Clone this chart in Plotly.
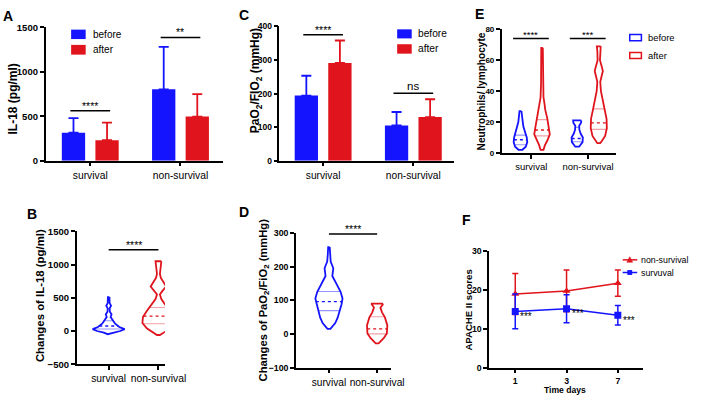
import numpy as np
import plotly.graph_objects as go

W, H = 708, 402
FONT = "Liberation Sans, Arial, sans-serif"
BLUE = "#1414ff"
RED = "#e0141c"
BLUE_L = "rgba(20,20,255,0.45)"
RED_L = "rgba(224,20,28,0.40)"

# ---------------- data ----------------
cats = ["survival", "non-survival"]

# A: IL-18 (pg/ml), mean and SD (upper bar only)
il18_before = [315, 803]
il18_before_sd = [163, 478]
il18_after = [230, 496]
il18_after_sd = [197, 252]
A_sig_y = [562, 1387]
A_sig_txt = ["****", "**"]

# C: PaO2/FiO2
pf_before = [194, 105]
pf_before_sd = [59, 40]
pf_after = [291, 130]
pf_after_sd = [67, 53]
C_sig_y = [375, 201]
C_sig_txt = ["****", "ns"]

# B: changes of IL-18 -- violin profiles (value, relative density) + quartiles
B_surv_v = [510, 470, 420, 380, 340, 290, 250, 210, 160, 110, 60, 28, 0, -25, -48]
B_surv_d = [0.8, 1, 1, 2.5, 1, 1.2, 3, 2, 4, 6.7, 11, 16.5, 12, 5, 1]
B_surv_q = [30, 75, 155]
B_non_v = [1050, 1000, 920, 860, 800, 740, 670, 600, 550, 480, 400, 300, 210, 120, 40, -10, -45, -60]
B_non_d = [3, 2.8, 2, 1.5, 2.5, 5, 8, 4, 1.5, 3, 7, 12, 16, 16.5, 12, 7, 3, 1.5]
B_non_q = [110, 225, 354]
B_sig_y = [1222]
B_sig_txt = ["****"]

# D: changes of PaO2/FiO2
D_surv_v = [258, 235, 215, 195, 172, 150, 125, 105, 88, 68, 48, 32, 21, 15]
D_surv_d = [0.8, 1.2, 1.8, 4.5, 3.5, 7.5, 12, 14, 13, 11, 9, 6.5, 3.5, 1.5]
D_surv_q = [69, 96, 126]
D_non_v = [90, 86, 78, 64, 49, 25, 1, -13, -25, -28]
D_non_d = [6, 5.5, 3.3, 5, 8, 10.5, 10, 6.7, 2.5, 1.5]
D_non_q = [0, 15, 51]
D_sig_y = [297]
D_sig_txt = ["****"]

# E: Neutrophils / lymphocyte
E_sb_v = [27, 24, 20, 17, 14, 10, 7, 4, 2]
E_sb_d = [1, 1.5, 2.2, 3, 4.5, 6.5, 7, 5.5, 2]
E_sb_q = [5.3, 8.5, 11.5]
E_sa_v = [68, 55, 45, 36, 32, 28, 22, 16, 12, 8, 5, 2]
E_sa_d = [0.8, 1, 1, 1.5, 2.5, 3.3, 5.5, 7, 8, 5.5, 3, 1.5]
E_sa_q = [11, 14.8, 21.5]
E_nb_v = [21, 19.5, 17.5, 15, 12.5, 10, 7, 5, 4]
E_nb_d = [4.2, 4, 2, 2.2, 3.5, 5.8, 5.5, 3.5, 2]
E_nb_q = [7.2, 9.3, 16.5]
E_na_v = [69, 66, 60, 56, 53, 50, 46, 40, 34, 28, 22, 16, 11, 8, 6.3]
E_na_d = [2, 1.5, 1.2, 3, 4.2, 3, 1.5, 2.2, 4, 6, 8, 8.3, 6.5, 3.5, 1.5]
E_na_q = [15.2, 19.4, 28.5]
E_sig_y = [74, 74]
E_sig_txt = ["****", "***"]

# F: APACHE II scores
days = ["1", "3", "7"]
apache_non = [19.0, 19.8, 21.8]
apache_non_sd = [5.3, 5.4, 3.4]
apache_surv = [14.5, 15.2, 13.5]
apache_surv_sd = [4.5, 3.6, 2.5]
F_sig_txt = ["***", "***", "***"]

# ---------------- helpers ----------------
def px(x):
    return x / W


def py(y):
    return 1 - y / H


fig = go.Figure()


def axis(domain, rng, tickfont, bold=False, **kw):
    tf = dict(family=FONT, size=tickfont, color="black")
    if bold:
        tf["weight"] = "bold"
    d = dict(domain=domain, range=rng, showline=True, linecolor="black", linewidth=1.5,
             ticks="outside", ticklen=4, tickwidth=1.5, tickcolor="black",
             showgrid=False, zeroline=False, fixedrange=True, tickfont=tf)
    d.update(kw)
    return d


def violin(xa, ya, center, vals, dens, q, color, light, scale):
    vals = np.asarray(vals, float)
    hw = np.asarray(dens, float) * scale
    xs = np.concatenate([center + hw, (center - hw)[::-1], [center + hw[0]]])
    ys = np.concatenate([vals, vals[::-1], [vals[0]]])
    fig.add_trace(go.Scatter(x=xs, y=ys, mode="lines", fill="toself", fillcolor="white",
                             line=dict(color=color, width=1.8), xaxis=xa, yaxis=ya,
                             showlegend=False, hoverinfo="skip"))
    order = np.argsort(vals)
    for i, val in enumerate(q):
        w = np.interp(val, vals[order], hw[order])
        if i == 1:
            ln = dict(color=color, width=1.3, dash="dot")
        else:
            ln = dict(color=light, width=1.1)
        fig.add_trace(go.Scatter(x=[center - w, center + w], y=[val, val], mode="lines",
                                 line=ln, xaxis=xa, yaxis=ya, showlegend=False,
                                 hoverinfo="skip"))


shapes = []
annos = []


def sig(xa, ya, x0, x1, y, txt, size=10.5, yshift=-3):
    shapes.append(dict(type="line", xref=xa, yref=ya, x0=x0, x1=x1, y0=y, y1=y,
                       line=dict(color="black", width=1.5)))
    annos.append(dict(xref=xa, yref=ya, x=(x0 + x1) / 2, y=y, text=txt, showarrow=False,
                      yanchor="bottom", yshift=yshift,
                      font=dict(family=FONT, size=size, color="black")))


def ytitle(x, y, txt, size):
    annos.append(dict(xref="paper", yref="paper", x=px(x), y=py(y), text=txt, textangle=-90,
                      showarrow=False, xanchor="center", yanchor="middle",
                      font=dict(family=FONT, size=size, color="black", weight="bold")))


def label(x, y, txt, size, bold=False, anchor="left"):
    f = dict(family=FONT, size=size, color="black")
    if bold:
        f["weight"] = "bold"
    annos.append(dict(xref="paper", yref="paper", x=px(x), y=py(y), text=txt, showarrow=False,
                      xanchor=anchor, yanchor="middle", font=f))


def rect(x0, y0, x1, y1, fill, line=None):
    shapes.append(dict(type="rect", xref="paper", yref="paper", x0=px(x0), x1=px(x1),
                       y0=py(y1), y1=py(y0), fillcolor=fill,
                       line=dict(width=0) if line is None else dict(color=line, width=1.5)))


# ---------------- Panel A ----------------
fig.add_trace(go.Bar(x=cats, y=il18_before, name="before", marker=dict(color=BLUE, line=dict(width=0)),
                     error_y=dict(type="data", array=il18_before_sd, arrayminus=[0, 0], symmetric=False,
                                  color=BLUE, thickness=1.8, width=5),
                     xaxis="x", yaxis="y", showlegend=False))
fig.add_trace(go.Bar(x=cats, y=il18_after, name="after", marker=dict(color=RED, line=dict(width=0)),
                     error_y=dict(type="data", array=il18_after_sd, arrayminus=[0, 0], symmetric=False,
                                  color=RED, thickness=1.8, width=5),
                     xaxis="x", yaxis="y", showlegend=False))
for i, (yv, t) in enumerate(zip(A_sig_y, A_sig_txt)):
    sig("x", "y", i - 0.22, i + 0.22, yv, t)

# ---------------- Panel C ----------------
fig.add_trace(go.Bar(x=cats, y=pf_before, name="before", marker=dict(color=BLUE, line=dict(width=0)),
                     error_y=dict(type="data", array=pf_before_sd, arrayminus=[0, 0], symmetric=False,
                                  color=BLUE, thickness=1.8, width=5),
                     xaxis="x3", yaxis="y3", showlegend=False))
fig.add_trace(go.Bar(x=cats, y=pf_after, name="after", marker=dict(color=RED, line=dict(width=0)),
                     error_y=dict(type="data", array=pf_after_sd, arrayminus=[0, 0], symmetric=False,
                                  color=RED, thickness=1.8, width=5),
                     xaxis="x3", yaxis="y3", showlegend=False))
for i, (yv, t) in enumerate(zip(C_sig_y, C_sig_txt)):
    if t == "ns":
        sig("x3", "y3", i - 0.22, i + 0.22, yv, t, size=11.5, yshift=-1)
    else:
        sig("x3", "y3", i - 0.22, i + 0.22, yv, t)

# ---------------- Panel B ----------------
violin("x2", "y2", 0, B_surv_v, B_surv_d, B_surv_q, BLUE, BLUE_L, 1 / 51.3)
violin("x2", "y2", 1, B_non_v, B_non_d, B_non_q, RED, RED_L, 1 / 51.3)
sig("x2", "y2", 0, 1, B_sig_y[0], B_sig_txt[0])

# ---------------- Panel D ----------------
violin("x4", "y4", 0, D_surv_v, D_surv_d, D_surv_q, BLUE, BLUE_L, 1 / 49.7)
violin("x4", "y4", 1, D_non_v, D_non_d, D_non_q, RED, RED_L, 1 / 49.7)
sig("x4", "y4", 0, 1, D_sig_y[0], D_sig_txt[0])

# ---------------- Panel E ----------------
off = 0.19
sE = 1 / 58.5
violin("x5", "y5", 0 - off, E_sb_v, E_sb_d, E_sb_q, BLUE, BLUE_L, sE)
violin("x5", "y5", 0 + off, E_sa_v, E_sa_d, E_sa_q, RED, RED_L, sE)
violin("x5", "y5", 1 - off, E_nb_v, E_nb_d, E_nb_q, BLUE, BLUE_L, sE)
violin("x5", "y5", 1 + off, E_na_v, E_na_d, E_na_q, RED, RED_L, sE)
for i, (yv, t) in enumerate(zip(E_sig_y, E_sig_txt)):
    sig("x5", "y5", i - 0.32, i + 0.31, yv, t, size=9.5)

# ---------------- Panel F ----------------
fig.add_trace(go.Scatter(x=days, y=apache_non, name="non-survival", mode="lines+markers",
                         line=dict(color=RED, width=1.5),
                         marker=dict(symbol="triangle-up", size=7, color=RED),
                         error_y=dict(type="data", array=apache_non_sd, color=RED, thickness=1.5, width=3),
                         xaxis="x6", yaxis="y6", showlegend=False))
fig.add_trace(go.Scatter(x=days, y=apache_surv, name="survuval", mode="lines+markers",
                         line=dict(color=BLUE, width=1.5),
                         marker=dict(symbol="square", size=7, color=BLUE),
                         error_y=dict(type="data", array=apache_surv_sd, color=BLUE, thickness=1.5, width=3),
                         xaxis="x6", yaxis="y6", showlegend=False))
for i, (v, t) in enumerate(zip(apache_surv, F_sig_txt)):
    annos.append(dict(xref="x6", yref="y6", x=i, y=v, text=t, showarrow=False, xanchor="left",
                      yanchor="middle", xshift=3, yshift=-5,
                      font=dict(family=FONT, size=10, color="black")))

# ---------------- legends (manual) ----------------
rect(73.3, 24.3, 88.3, 34, BLUE)
rect(73.3, 40, 88.3, 50, RED)
label(94, 29, "before", 10)
label(94, 45, "after", 10)

rect(409.3, 24, 424.3, 33.3, BLUE)
rect(409.3, 39.3, 424.3, 49, RED)
label(428.5, 28.7, "before", 10.2)
label(428.5, 44.2, "after", 10.2)

rect(649, 29.3, 661, 35.7, "white", BLUE)
rect(649, 47.7, 661, 54, "white", RED)
label(665.5, 32.5, "before", 9.4)
label(665.5, 50.8, "after", 9.4)

shapes.append(dict(type="line", xref="paper", yref="paper", x0=px(641.7), x1=px(656.7),
                   y0=py(261), y1=py(261), line=dict(color=RED, width=1.5)))
shapes.append(dict(type="path", xref="paper", yref="paper",
                   path="M %f,%f L %f,%f L %f,%f Z" % (px(646), py(263.5), px(652), py(263.5), px(649), py(257.8)),
                   fillcolor=RED, line=dict(color=RED, width=0.5)))
shapes.append(dict(type="line", xref="paper", yref="paper", x0=px(641.7), x1=px(656.7),
                   y0=py(274), y1=py(274), line=dict(color=BLUE, width=1.5)))
rect(646.5, 271.5, 651.5, 276.5, BLUE)
label(658.5, 261, "non-survival", 8.8)
label(658.5, 274, "survuval", 8.8)

# ---------------- titles & panel letters ----------------
ytitle(13.5, 96, "IL-18 (pg/ml)", 12)
ytitle(42, 297.5, "Changes of IL-18 (pg/ml)", 11.4)
ytitle(263.5, 76.7, "PaO<sub>2</sub>/FIO<sub>2</sub> (mmHg)", 12)
ytitle(271.7, 302, "Changes of PaO<sub>2</sub>/FiO<sub>2</sub> (mmHg)", 11.2)
ytitle(496, 87.5, "Neutrophils/ lymphocyte", 10.1)
ytitle(483, 312.5, "APACHE II scores", 9.6)
label(582.3, 394.3, "Time days", 8.6, bold=True, anchor="center")

for lt, x, y in [("A", 8, 10), ("C", 251, 9), ("E", 494, 8.7), ("B", 32.5, 214.3), ("D", 251, 212), ("F", 480.5, 220)]:
    label(x, y, lt, 14, bold=True, anchor="center")

# ---------------- layout ----------------
fig.update_layout(
    width=W, height=H, margin=dict(l=0, r=0, t=0, b=0),
    paper_bgcolor="white", plot_bgcolor="white",
    barmode="group", bargap=0.256, bargroupgap=0.306,
    showlegend=False,
    font=dict(family=FONT, color="black"),
    xaxis=axis([px(47), px(230)], [-0.495, 1.473], 10.3, type="category", anchor="y"),
    yaxis=axis([py(159), py(22)], [0, 1500], 9.5, bold=True, tickvals=[0, 500, 1000, 1500], anchor="x"),
    xaxis2=axis([px(79), px(170)], [-0.643, 1.131], 10.3, tickvals=[0, 1], ticktext=cats, anchor="y2"),
    yaxis2=axis([py(368.3), py(231.7)], [-500, 1500], 9.5, bold=True, tickvals=[-500, 0, 500, 1000, 1500], anchor="x2"),
    xaxis3=axis([px(288), px(468)], [-0.484, 1.452], 10.2, type="category", anchor="y3"),
    yaxis3=axis([py(159), py(21)], [0, 400], 8.5, bold=True, tickvals=[0, 100, 200, 300, 400], anchor="x3"),
    xaxis4=axis([px(305), px(403)], [-0.684, 1.288], 10.2, tickvals=[0, 1], ticktext=cats, anchor="y4"),
    yaxis4=axis([py(371.7), py(233.3)], [-100, 300], 8.8, bold=True, tickvals=[-100, 0, 100, 200, 300], anchor="x4"),
    xaxis5=axis([px(517), px(635)], [-0.521, 1.496], 9.5, tickvals=[0, 1], ticktext=cats, anchor="y5"),
    yaxis5=axis([py(151), py(24)], [0, 80], 8, bold=True, tickvals=[0, 20, 40, 60, 80], anchor="x5"),
    xaxis6=axis([px(504), px(663)], [-0.511, 2.497], 8.7, bold=True, type="category", categoryarray=days,
                categoryorder="array", anchor="y6"),
    yaxis6=axis([py(371.7), py(252.3)], [0, 30], 8.7, bold=True, tickvals=[0, 10, 20, 30], anchor="x6"),
    shapes=shapes,
    annotations=annos,
)

fig.write_html("out.html", config={"displayModeBar": False},
               post_script="document.body.style.margin='0';document.body.style.overflow='hidden';")
